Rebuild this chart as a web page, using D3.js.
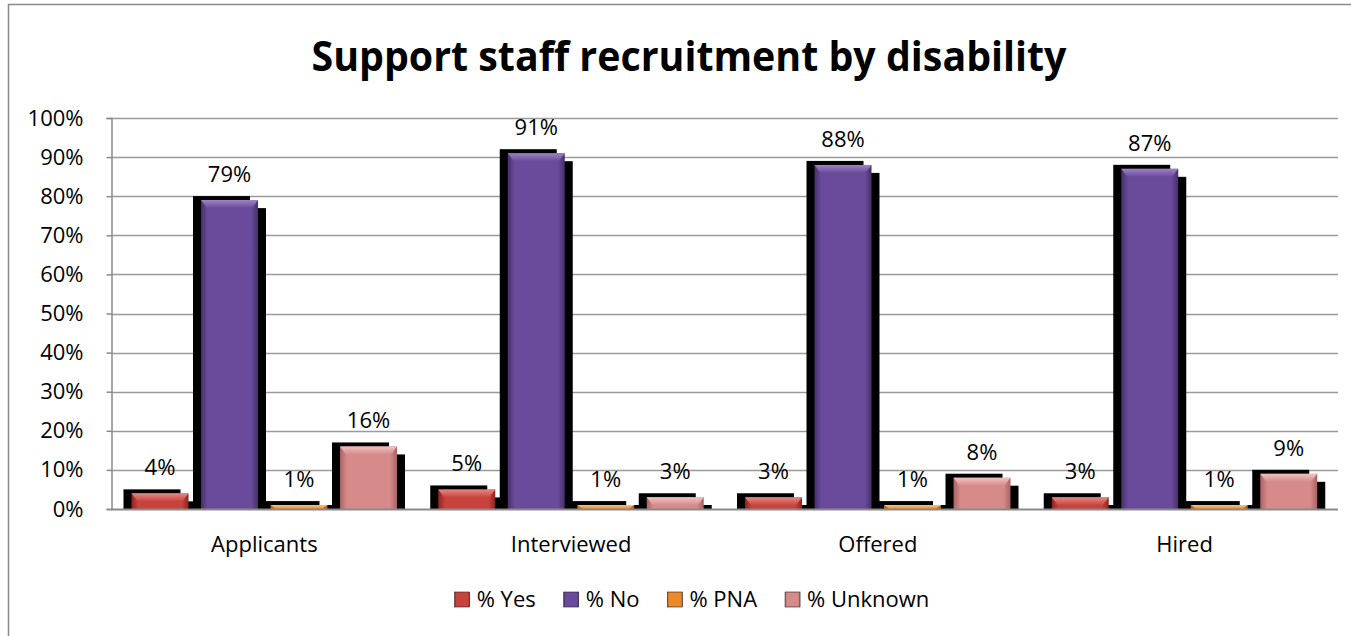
<!DOCTYPE html>
<html>
<head>
<meta charset="utf-8">
<script src="https://cdn.jsdelivr.net/npm/d3@7"></script>
<style>
  html, body { margin: 0; padding: 0; background: #fff; }
  svg { display: block; font-family: "Open Sans", "Noto Sans", sans-serif; }
</style>
</head>
<body>
<svg id="chart" width="1351" height="636"></svg>
<script>
// Recruitment stages and disability-status series (percent of each stage)
const categories = ["Applicants", "Interviewed", "Offered", "Hired"];
const seriesNames = ["% Yes", "% No", "% PNA", "% Unknown"];
const yesValues = [4, 5, 3, 3];
const noValues = [79, 91, 88, 87];
const pnaValues = [1, 1, 1, 1];
const unknownValues = [16, 3, 8, 9];
const yTicks = [0, 10, 20, 30, 40, 50, 60, 70, 80, 90, 100];
const titleText = "Support staff recruitment by disability";

const seriesValues = [yesValues, noValues, pnaValues, unknownValues];
// base, dark edge, light bevel for each series
const palette = [
  { mid: "#c8433d", dark: "#8e2320", light: "#e58a84" },
  { mid: "#6a4a9a", dark: "#45306a", light: "#9d84c4" },
  { mid: "#ea8a2a", dark: "#b05c10", light: "#f7c07e" },
  { mid: "#d68a8a", dark: "#a86262", light: "#f0c2c2" }
];

const svg = d3.select("#chart");
const W = 1351, H = 636;
const plot = { left: 111, right: 1338, top: 118, bottom: 509 };
const labelSize = 22;

// chart frame
svg.append("path")
  .attr("d", `M8.5,${H} L8.5,4.5 L${W},4.5`)
  .attr("fill", "none").attr("stroke", "#8a8a8a").attr("stroke-width", 1.5);

// gradients
const defs = svg.append("defs");
palette.forEach((p, i) => {
  const g = defs.append("linearGradient").attr("id", "fill" + i)
    .attr("x1", "0").attr("x2", "1").attr("y1", "0").attr("y2", "0");
  g.append("stop").attr("offset", "0").attr("stop-color", p.dark);
  g.append("stop").attr("offset", "0.12").attr("stop-color", p.mid);
  g.append("stop").attr("offset", "0.88").attr("stop-color", p.mid);
  g.append("stop").attr("offset", "1").attr("stop-color", p.dark);
  const t = defs.append("linearGradient").attr("id", "bevel" + i)
    .attr("x1", "0").attr("x2", "0").attr("y1", "0").attr("y2", "1");
  t.append("stop").attr("offset", "0").attr("stop-color", p.light);
  t.append("stop").attr("offset", "1").attr("stop-color", p.mid);
});

// title
svg.append("text")
  .attr("x", 689).attr("y", 71)
  .attr("text-anchor", "middle")
  .attr("font-size", 42).attr("font-weight", 700)
  .attr("textLength", 755).attr("lengthAdjust", "spacingAndGlyphs")
  .attr("fill", "#000")
  .text(titleText);

// scales
const x = d3.scaleBand().domain(categories).range([plot.left, plot.right]).padding(0);
const xs = d3.scaleBand().domain(seriesNames)
  .range([20.5, 286]).paddingInner(0.18).paddingOuter(0);
const y = d3.scaleLinear().domain([0, 100]).range([plot.bottom, plot.top]);

// gridlines
svg.append("g").selectAll("line").data(yTicks.filter(d => d > 0)).join("line")
  .attr("x1", plot.left).attr("x2", plot.right)
  .attr("y1", d => Math.round(y(d)) + 0.5).attr("y2", d => Math.round(y(d)) + 0.5)
  .attr("stroke", "#9a9a9a").attr("stroke-width", 1.5);

// y axis
const yAxis = svg.append("g")
  .attr("transform", `translate(${plot.left + 0.5},0)`)
  .call(d3.axisLeft(y).tickValues(yTicks).tickFormat(d => d + "%").tickSize(5).tickPadding(23));
yAxis.select(".domain").attr("stroke", "#8a8a8a").attr("stroke-width", 1.5);
yAxis.selectAll(".tick line").attr("stroke", "#8a8a8a").attr("stroke-width", 1.5);
yAxis.selectAll(".tick text").attr("font-size", labelSize).attr("fill", "#000")
  .attr("font-family", "'Open Sans', sans-serif");

// bars
const groups = svg.append("g").selectAll("g").data(categories).join("g")
  .attr("transform", d => `translate(${x(d)},0)`);

groups.each(function (cat, ci) {
  const g = d3.select(this);
  seriesNames.forEach((s, si) => {
    const v = seriesValues[si][ci];
    const bx = xs(s), bw = xs.bandwidth();
    const by = y(v), bh = y(0) - y(v);
    // drop shadows
    g.append("rect").attr("x", bx - 8).attr("y", by - 4)
      .attr("width", bw).attr("height", bh + 4).attr("fill", "#000");
    g.append("rect").attr("x", bx + 8).attr("y", Math.min(by + 8, y(0) - 4))
      .attr("width", bw).attr("height", Math.max(bh - 8, 4)).attr("fill", "#000");
    // body
    g.append("rect").attr("x", bx).attr("y", by)
      .attr("width", bw).attr("height", bh).attr("fill", `url(#fill${si})`);
    // top bevel
    const bev = Math.min(8, bh);
    g.append("path")
      .attr("d", `M${bx},${by} L${bx + bw},${by} L${bx + bw - 6},${by + bev} L${bx + 6},${by + bev} Z`)
      .attr("fill", `url(#bevel${si})`);
    // value label
    g.append("text")
      .attr("x", bx + bw / 2).attr("y", by - 18)
      .attr("text-anchor", "middle").attr("font-size", labelSize).attr("fill", "#000")
      .text(v + "%");
  });
});

// x axis line
svg.append("line")
  .attr("x1", plot.left).attr("x2", plot.right)
  .attr("y1", plot.bottom + 0.5).attr("y2", plot.bottom + 0.5)
  .attr("stroke", "#8a8a8a").attr("stroke-width", 2);

// category labels
svg.append("g").selectAll("text").data(categories).join("text")
  .attr("x", d => x(d) + x.bandwidth() / 2).attr("y", 552)
  .attr("text-anchor", "middle").attr("font-size", labelSize).attr("fill", "#000")
  .text(d => d);

// legend
const legend = svg.append("g");
const items = legend.selectAll("g").data(seriesNames).join("g");
items.append("rect").attr("width", 15).attr("height", 15).attr("y", 592)
  .attr("fill", (d, i) => `url(#fill${i})`).attr("stroke", "#222").attr("stroke-width", 0.6);
items.append("text").attr("x", 22).attr("y", 607)
  .attr("font-size", labelSize).attr("fill", "#000").text(d => d);
let cursor = 0;
const offsets = [];
items.each(function () {
  offsets.push(cursor);
  const tw = d3.select(this).select("text").node().getComputedTextLength();
  cursor += 22 + tw + 28;
});
const total = cursor - 28;
const startX = 692 - total / 2;
items.attr("transform", (d, i) => `translate(${startX + offsets[i]},0)`);
</script>
</body>
</html>
